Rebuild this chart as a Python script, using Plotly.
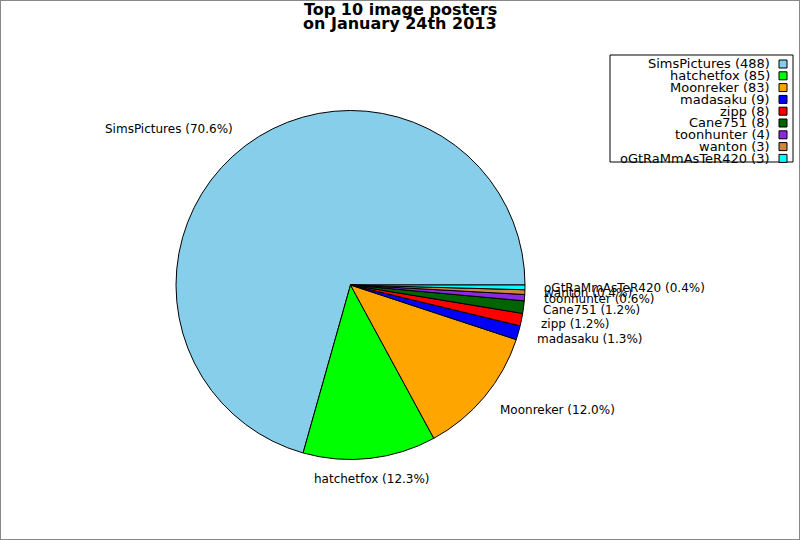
import math
import plotly.graph_objects as go

# Top posters data
posters = ["SimsPictures", "hatchetfox", "Moonreker", "madasaku", "zipp",
           "Cane751", "toonhunter", "wanton", "oGtRaMmAsTeR420"]
counts = [488, 85, 83, 9, 8, 8, 4, 3, 3]
colors = ["#87CEEB", "#00FF00", "#FFA500", "#0000FF", "#FF0000",
          "#006400", "#8A2BE2", "#CD853F", "#00FFFF"]
title_lines = ["Top 10 image posters", "on January 24th 2013"]

W, H = 800, 540
font = "DejaVu Sans"

# pie box in pixels
px0, px1, py0, py1 = 176, 525, 110, 460
cx, cy = (px0 + px1) / 2, (py0 + py1) / 2
radius = (px1 - px0) / 2

total = sum(counts)
# plotly puts the first slice clockwise of `rotation` when going counterclockwise,
# so shift it back so the first slice starts at 3 o'clock like matplotlib
first_share = 360 * counts[0] / total

fig = go.Figure(go.Pie(
    labels=posters,
    values=counts,
    marker=dict(colors=colors, line=dict(color="black", width=1)),
    sort=False,
    direction="counterclockwise",
    rotation=90 - first_share,
    textinfo="none",
    domain=dict(x=[px0 / W, px1 / W], y=[1 - py1 / H, 1 - py0 / H]),
    showlegend=False,
    automargin=False,
))

shapes = [dict(type="rect", xref="paper", yref="paper", x0=0, x1=1, y0=0, y1=1,
               line=dict(color="#888888", width=2)),
          dict(type="rect", xref="paper", yref="paper",
               x0=610 / W, x1=793 / W, y0=1 - 162 / H, y1=1 - 55 / H,
               line=dict(color="black", width=1), fillcolor="white")]
annotations = []

for i, line in enumerate(title_lines):
    annotations.append(dict(x=0.5, y=1 - (10 + i * 14) / H, xref="paper", yref="paper",
                            text=f"<b>{line}</b>", showarrow=False,
                            xanchor="center", yanchor="middle",
                            font=dict(family=font, size=16, color="black")))

# slice labels just outside the pie, matplotlib style (no leader lines)
cum = 0
for name, n in zip(posters, counts):
    mid = 2 * math.pi * (cum + n / 2) / total
    cum += n
    c, s = math.cos(mid), math.sin(mid)
    lx = cx + 1.1 * radius * c
    ly = cy - 1.12 * radius * s
    xa = "center" if abs(c) < 0.2 else ("left" if c > 0 else "right")
    annotations.append(dict(x=lx / W, y=1 - ly / H, xref="paper", yref="paper",
                            text=f"{name} ({100 * n / total:.1f}%)", showarrow=False,
                            xanchor=xa, yanchor="middle",
                            font=dict(family=font, size=12, color="black")))

# legend drawn by hand so the swatch sits right of the text like the original
for i, (name, n, c) in enumerate(zip(posters, counts, colors)):
    yc = 64 + i * 11.8
    annotations.append(dict(x=772 / W, y=1 - yc / H, xref="paper", yref="paper",
                            text=f"{name} ({n})", showarrow=False,
                            xanchor="right", yanchor="middle",
                            font=dict(family=font, size=13, color="black")))
    shapes.append(dict(type="rect", xref="paper", yref="paper",
                       x0=779 / W, x1=787 / W, y0=1 - (yc + 4) / H, y1=1 - (yc - 4) / H,
                       fillcolor=c, line=dict(color="black", width=1)))

fig.update_layout(
    width=W, height=H,
    margin=dict(l=0, r=0, t=0, b=0),
    paper_bgcolor="white",
    shapes=shapes,
    annotations=annotations,
)

fig.write_html("out.html", config={"displayModeBar": False},
               post_script="document.body.style.margin='0';")
